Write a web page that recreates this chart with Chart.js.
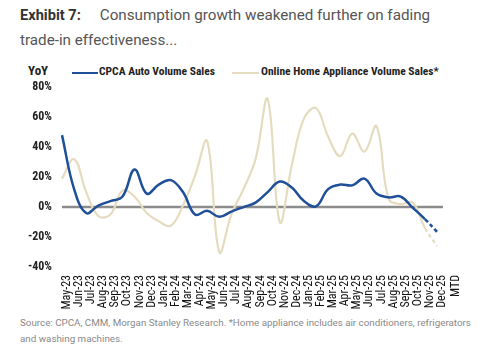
<!DOCTYPE html>
<html>
<head>
<meta charset="utf-8">
<script src="https://cdn.jsdelivr.net/npm/chart.js@4"></script>
<style>
  html,body{margin:0;padding:0;background:#fff;}
  #wrap{position:relative;width:480px;height:350px;overflow:hidden;font-family:Roboto,"Liberation Sans",sans-serif;}
  .t{position:absolute;white-space:nowrap;}
  #title1{left:20px;top:6px;font-size:15.2px;color:#555;}
  #title1 b{color:#333;font-weight:700;margin-right:19px;font-size:14.6px;}
  #title2{left:20px;top:31px;font-size:15.2px;color:#555;}
  .leg{position:absolute;top:64px;font-family:"Liberation Sans Narrow","Roboto Condensed",Roboto,sans-serif;font-weight:700;font-size:11.5px;color:#222;white-space:nowrap;}
  .sw{position:absolute;height:2px;top:72px;}
  #src{left:20px;top:315px;font-size:9.8px;color:#8a8a8a;line-height:16px;}
  canvas{position:absolute;left:0;top:70px;}
</style>
</head>
<body>
<div id="wrap">
  <div class="t" id="title1"><b>Exhibit 7:</b>Consumption growth weakened further on fading</div>
  <div class="t" id="title2">trade-in effectiveness...</div>
  <div class="leg" style="left:28px;font-size:13px;top:63px;">YoY</div>
  <div class="sw" style="left:72px;width:26px;background:#1f4f99;"></div>
  <div class="leg" style="left:99px;">CPCA Auto Volume Sales</div>
  <div class="sw" style="left:232px;width:27px;background:#e5dcbf;"></div>
  <div class="leg" style="left:261px;">Online Home Appliance Volume Sales*</div>
  <canvas id="c" width="480" height="244" style="width:480px;height:244px;"></canvas>
  <div class="t" id="src">Source: CPCA, CMM, Morgan Stanley Research. *Home appliance includes air conditioners, refrigerators<br>and washing machines.</div>
</div>
<script>
const months = ["May-23","Jun-23","Jul-23","Aug-23","Sep-23","Oct-23","Nov-23","Dec-23",
  "Jan-24","Feb-24","Mar-24","Apr-24","May-24","Jun-24","Jul-24","Aug-24","Sep-24","Oct-24","Nov-24","Dec-24",
  "Jan-25","Feb-25","Mar-25","Apr-25","May-25","Jun-25","Jul-25","Aug-25","Sep-25","Oct-25","Nov-25",["Dec-25","MTD"]];
const autoSales = [48, 12, -4, 1, 4, 7, 25, 9, 15, 18, 10, -5, -2.5, -6.5, -3, 0, 3, 10, 17, 13,
  4, 0.5, 12, 15, 14.5, 19, 9, 6.5, 7, -0.5, -8, -16.5];
const applianceSales = [19, 32, 10, -6, -5, 11, 7, -4, -9.5, -12.5, 1, 21, 44, -30, -5, 12, 32, 72, -10, 28,
  59, 66, 47, 34, 49, 37, 54, 5.5, 2, 3, -14, -26];
const yTicks = [80, 60, 40, 20, 0, -20, -40];

const narrow = '"Liberation Sans Narrow","Roboto Condensed",Roboto,sans-serif';
const dashLast = ctx => ctx.p0DataIndex >= autoSales.length - 2 ? [4, 3] : undefined;

const zeroLine = {
  id: 'zeroLine',
  beforeDatasetsDraw(chart) {
    const ctx = chart.ctx, y = chart.scales.y.getPixelForValue(0);
    const {left, right} = chart.chartArea;
    ctx.save();
    ctx.strokeStyle = '#8c8c8c';
    ctx.lineWidth = 2.5;
    ctx.beginPath();
    ctx.moveTo(left, y);
    ctx.lineTo(right + 6, y);
    ctx.stroke();
    ctx.restore();
  }
};

new Chart(document.getElementById('c'), {
  type: 'line',
  data: {
    labels: months,
    datasets: [
      {label: 'CPCA Auto Volume Sales', data: autoSales, borderColor: '#1f4f99', borderWidth: 2.5,
       pointRadius: 0, tension: 0.4, fill: false, segment: {borderDash: dashLast}},
      {label: 'Online Home Appliance Volume Sales*', data: applianceSales, borderColor: '#e5dcbf', borderWidth: 2.2,
       pointRadius: 0, tension: 0.4, fill: false, segment: {borderDash: dashLast}}
    ]
  },
  options: {
    responsive: false,
    animation: false,
    layout: {padding: {top: 4, right: 43, left: 0, bottom: 0}},
    plugins: {legend: {display: false}, tooltip: {enabled: false}},
    scales: {
      x: {
        offset: false,
        grid: {display: false, drawTicks: false},
        border: {display: false},
        ticks: {autoSkip: false, maxRotation: 90, minRotation: 90, padding: 8, labelOffset: 5,
                color: '#111', font: {family: narrow, size: 12}},
        afterFit: s => { s.height = 47; }
      },
      y: {
        min: -40, max: 80,
        grid: {display: false, drawTicks: false},
        border: {display: false},
        afterBuildTicks: s => { s.ticks = yTicks.map(v => ({value: v})); },
        ticks: {padding: 10, color: '#222', font: {family: narrow, size: 12, weight: 'bold'},
                callback: v => v + '%'},
        afterFit: s => { s.width = 62; }
      }
    }
  },
  plugins: [zeroLine]
});
</script>
</body>
</html>
